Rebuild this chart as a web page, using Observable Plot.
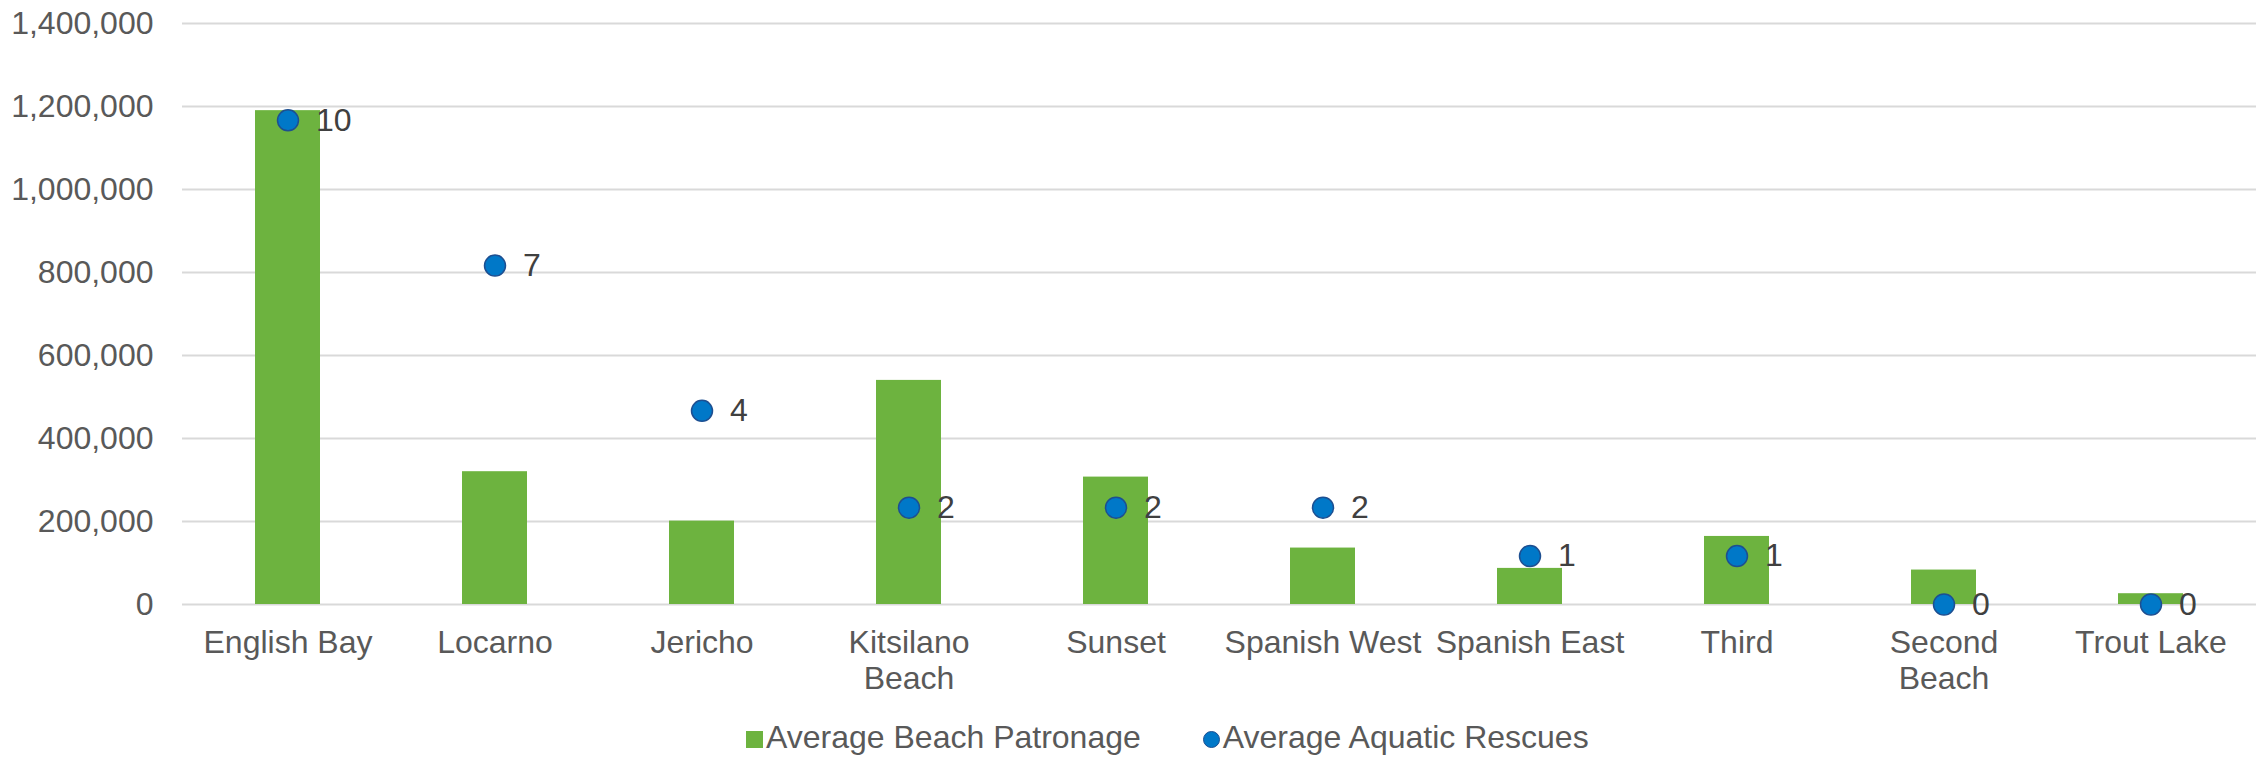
<!DOCTYPE html>
<html>
<head>
<meta charset="utf-8">
<script src="https://cdn.jsdelivr.net/npm/d3@7"></script>
<script src="https://cdn.jsdelivr.net/npm/@observablehq/plot@0.6"></script>
<style>
  html, body { margin: 0; padding: 0; background: #fff; overflow: hidden; }
  body { width: 2262px; height: 757px; position: relative; font-family: "Liberation Sans", Arial, sans-serif; }
  #legend { position: absolute; left: 746px; top: 720px; font-size: 32px; line-height: 34px; color: #595959; white-space: nowrap; }
  #legend .sq { display: inline-block; width: 17px; height: 17px; background: #6db33f; margin-right: 3px; }
  #legend .ci { display: inline-block; width: 15px; height: 15px; border-radius: 50%; background: #0078c8; border: 1.5px solid #1d4f91; margin-left: 62px; margin-right: 3px; }
</style>
</head>
<body>
<div id="chart"></div>
<div id="legend"><span class="sq"></span>Average Beach Patronage<span class="ci"></span>Average Aquatic Rescues</div>
<script>
const beaches = ["English Bay", "Locarno", "Jericho", "Kitsilano Beach", "Sunset", "Spanish West", "Spanish East", "Third", "Second Beach", "Trout Lake"];
const beachLabels = ["English Bay", "Locarno", "Jericho", "Kitsilano\nBeach", "Sunset", "Spanish West", "Spanish East", "Third", "Second\nBeach", "Trout Lake"];
const patronage = [1190000, 320000, 201000, 540000, 307000, 136000, 87000, 164000, 83000, 26000];
const rescues = [10, 7, 4, 2, 2, 2, 1, 1, 0, 0];
const yTicks = [0, 200000, 400000, 600000, 800000, 1000000, 1200000, 1400000];
const primaryMax = 1400000;
const secondaryMax = 12; // hidden secondary axis for rescues

const data = beaches.map((b, i) => ({beach: b, label: beachLabels[i], patronage: patronage[i], rescues: rescues[i]}));
const toPrimary = v => v * primaryMax / secondaryMax;

const chart = Plot.plot({
  width: 2262,
  height: 720,
  marginLeft: 182,
  marginRight: 6,
  marginTop: 23,
  marginBottom: 116,
  style: {fontFamily: "Liberation Sans, Arial, sans-serif", color: "#595959", background: "#fff"},
  x: {domain: beaches, paddingInner: 0.687, paddingOuter: 0.3435, axis: null},
  y: {domain: [0, primaryMax], axis: null},
  marks: [
    Plot.ruleY(yTicks, {stroke: "#d9d9d9", strokeWidth: 2}),
    Plot.axisY({ticks: yTicks, tickFormat: d3.format(","), tickSize: 0, tickPadding: 29, fontSize: 32, fill: "#595959", label: null}),
    Plot.barY(data, {x: "beach", y: "patronage", fill: "#6db33f"}),
    Plot.text(data, {x: "beach", y: () => 0, text: "label", lineAnchor: "top", lineHeight: 1.11, dy: 23.5, fontSize: 32, fill: "#595959"}),
    Plot.dot(data, {x: "beach", y: d => toPrimary(d.rescues), r: 10.5, fill: "#0078c8", stroke: "#1d4f91", strokeWidth: 1.5}),
    Plot.text(data, {x: "beach", y: d => toPrimary(d.rescues), text: d => String(d.rescues), textAnchor: "start", dx: 28, fontSize: 32, fill: "#404040"})
  ]
});
document.getElementById("chart").appendChild(chart);
</script>
</body>
</html>
